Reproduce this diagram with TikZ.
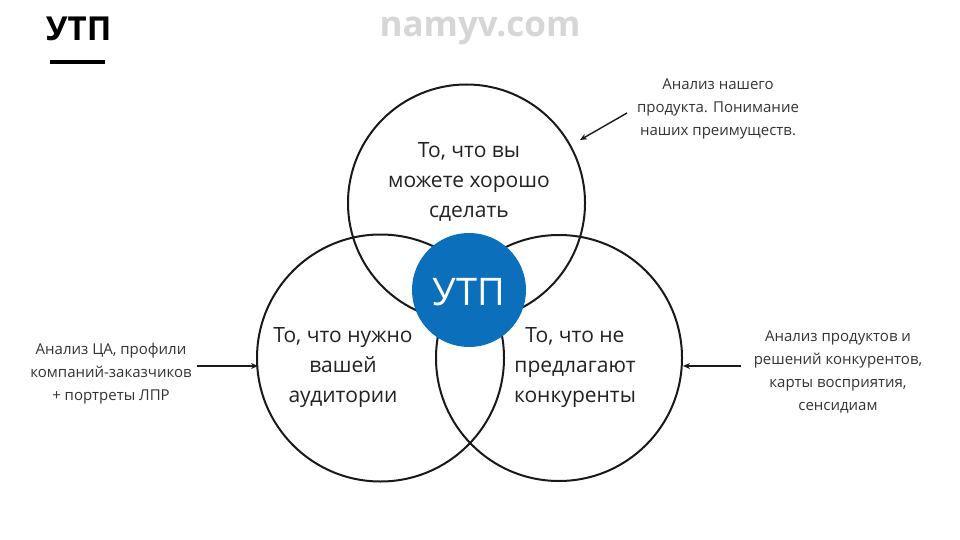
\documentclass[tikz,border=0pt]{standalone}
\usepackage{fontspec}
\setmainfont{Open Sans}
\usetikzlibrary{arrows.meta}
\definecolor{utpblue}{RGB}{12,111,188}
\definecolor{txt}{RGB}{34,34,34}
\definecolor{note}{RGB}{51,51,51}
\tikzset{
  ring/.style={draw=black!90, line width=2pt},
  bigtext/.style={align=center, text=txt, font=\fontsize{21}{30}\selectfont},
  notetext/.style={align=center, text=note, font=\fontsize{15}{23}\selectfont},
  pointer/.style={draw=black!90, line width=1.4pt, -{Stealth[length=7pt,width=6pt]}}
}
\begin{document}
\begin{tikzpicture}[x=1pt,y=-1pt]
\useasboundingbox[fill=white] (0,0) rectangle (960,540);
% title
\node[anchor=west, inner sep=0, text=black, font=\fontsize{33}{33}\selectfont\bfseries] (title) at (46,29) {УТП};
\draw[line width=4pt, black] (50,62) -- (105,62);
% watermark
\node[text=black!16, font=\fontsize{35}{35}\selectfont\bfseries] (wm) at (480,31) {namyv.com};
% circles
\draw[ring] (466.5,203) circle (118.5);
\draw[ring] (380.5,358) circle (123.5);
\draw[ring] (559,358) circle (123);
\fill[utpblue] (469,290) circle (57);
\node (utp) at (469,290) {};
\node[text=white, font=\fontsize{38}{38}\selectfont] at (469,292) {УТП};
% circle texts
\node[bigtext] (top) at (469,182) {То, что вы\\можете хорошо\\сделать};
\node[bigtext] (left) at (343,368) {То, что нужно\\вашей\\аудитории};
\node[bigtext] (right) at (575,368) {То, что не\\предлагают\\конкуренты};
% anchors on circle edges
\coordinate (ctop) at (580,140);
\coordinate (cleft) at (258,366);
\coordinate (cright) at (683,366);
% notes
\node[notetext] (ntop) at (718,109) {Анализ нашего\\продукта. Понимание\\наших преимуществ.};
\node[notetext] (nleft) at (111,374) {Анализ ЦА, профили\\компаний-заказчиков\\+ портреты ЛПР};
\node[notetext] (nright) at (838,372) {Анализ продуктов и\\решений конкурентов,\\карты восприятия,\\сенсидиам};
\coordinate (stop) at (627,113);
\coordinate (sleft) at (197,366);
\coordinate (sright) at (741,366);
\draw[pointer] (stop) -- (ctop);
\draw[pointer] (sleft) -- (cleft);
\draw[pointer] (sright) -- (cright);
\end{tikzpicture}
\end{document}
